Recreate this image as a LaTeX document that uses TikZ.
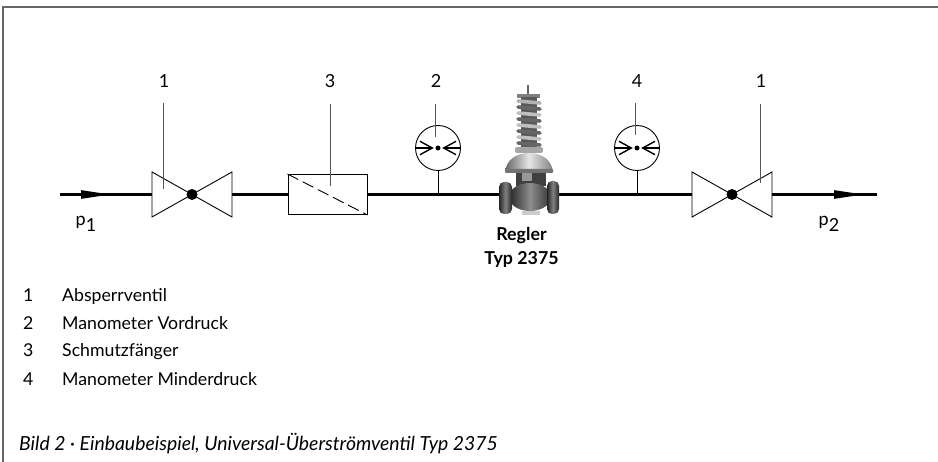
\documentclass[tikz,border=0pt]{standalone}
\usepackage{fontspec}
\setmainfont{Lato}
\usetikzlibrary{arrows.meta,shapes}

\definecolor{leadgray}{HTML}{555555}
\definecolor{framegray}{HTML}{666666}

\begin{document}
\begin{tikzpicture}[x=1pt,y=-1pt]
    \tikzset{pipe/.style   = {line width=2.5pt, black},
        thin line/.style   = {line width=0.9pt, black},
        leader/.style      = {line width=0.9pt, leadgray},
        frame/.style       = {line width=2pt, framegray},
        flow/.style        = {pipe, -{Triangle[length=30pt,width=8pt]}},
        nr/.style          = {anchor=base, inner sep=0pt, font=\fontsize{18}{20}\selectfont},
        item/.style        = {anchor=base west, inner sep=0pt, font=\fontsize{17.7}{20}\selectfont},
        gauge/.style       = {circle, draw, thin line, minimum size=45pt, inner sep=0pt},
        filter/.style      = {rectangle, draw, thin line, minimum width=79pt, minimum height=40pt},
        seat/.style        = {circle, fill=black, minimum size=11pt, inner sep=0pt},
        coil/.style        = {line width=3.6pt, line cap=round}
        }

    \def\Pipe{194.5};
    \def\Glass{148};

    \useasboundingbox (0,0) rectangle (938,462);

    % Draw the frame.
    \coordinate (cornerL) at (3,462);
    \coordinate (cornerT) at (3,7.5);
    \coordinate (cornerR) at (938,7.5);
    \draw[frame] (cornerL) -- (cornerT) -- (cornerR);

    % Draw the line nodes.
    \coordinate (inlet)   at (60,\Pipe);
    \coordinate (tipA)    at (111,\Pipe);
    \coordinate (tipB)    at (864,\Pipe);
    \coordinate (outlet)  at (877,\Pipe);
    \coordinate (teeA)    at (438,\Pipe);
    \coordinate (teeB)    at (637,\Pipe);
    \coordinate (reglerA) at (505,\Pipe);
    \coordinate (reglerB) at (553,\Pipe);
    \node[seat]   (ventilA) at (192,\Pipe) {};
    \node[seat]   (ventilB) at (732,\Pipe) {};
    \node[filter] (sieb)    at (327.5,\Pipe) {};
    \node[gauge]  (gaugeA)  at (438,\Glass) {};
    \node[gauge]  (gaugeB)  at (637,\Glass) {};

    % Draw the valves.
    \coordinate (ventilAl) at (152,\Pipe);
    \coordinate (ventilAr) at (232,\Pipe);
    \coordinate (ventilBl) at (692,\Pipe);
    \coordinate (ventilBr) at (772,\Pipe);
    \draw[thin line] (152,172) -- (232,217) -- (232,172) -- (152,217) -- cycle;
    \draw[thin line] (692,172) -- (772,217) -- (772,172) -- (692,217) -- cycle;

    % Draw the pipe.
    \draw[pipe] (inlet) -- (ventilAl);
    \draw[flow] (inlet) -- (tipA);
    \draw[pipe] (ventilAr) -- (sieb.west);
    \draw[pipe] (sieb.east) -- (reglerA);
    \draw[pipe] (reglerB) -- (ventilBl);
    \draw[pipe] (ventilBr) -- (outlet);
    \draw[flow] (ventilBr) -- (tipB);
    \draw[thin line] (gaugeA.south) -- (teeA);
    \draw[thin line] (gaugeB.south) -- (teeB);

    % Draw the strainer screen.
    \draw[thin line, dash pattern=on 12pt off 5pt] (sieb.north west) -- (sieb.south east);

    % Draw the gauge dials.
    \fill (gaugeA.center) circle (2.5);
    \draw[line width=1.1pt] (gaugeA.west) -- ++(17,0);
    \draw[line width=1.1pt] (gaugeA.east) -- ++(-17,0);
    \draw[line width=1.4pt] (420,141.3) -- (432.3,148) -- (420,154.7);
    \draw[line width=1.4pt] (456,141.3) -- (443.7,148) -- (456,154.7);
    \fill (gaugeB.center) circle (2.5);
    \draw[line width=1.1pt] (gaugeB.west) -- ++(17,0);
    \draw[line width=1.1pt] (gaugeB.east) -- ++(-17,0);
    \draw[line width=1.4pt] (619,141.3) -- (631.3,148) -- (619,154.7);
    \draw[line width=1.4pt] (655,141.3) -- (642.7,148) -- (655,154.7);

    % Draw the regulator.
    \fill[black!60] (526.5,85) rectangle (529,96);
    \fill[black!50] (517,94) rectangle (540,98);
    \fill[black!65] (521,97) rectangle (537,150);
    \draw[coil, black!30] (518,101) -- (540,103);
    \draw[coil, black!60] (518,107) -- (540,109);
    \draw[coil, black!25] (518,113) -- (540,115);
    \draw[coil, black!60] (518,119) -- (540,121);
    \draw[coil, black!25] (518,125) -- (540,127);
    \draw[coil, black!60] (518,131) -- (540,133);
    \draw[coil, black!25] (518,137) -- (540,139);
    \draw[coil, black!60] (518,143) -- (540,145);
    \fill[black!35, rounded corners=2pt] (515,147) rectangle (543,153);
    \shade[left color=black!60, right color=black!50, middle color=black!10]
        (505,172) .. controls (506,161) and (515,153) .. (529,153)
        .. controls (543,153) and (552,161) .. (553,172) -- cycle;
    \fill[black!55, rounded corners=1pt] (505,169) rectangle (553,173);
    \fill[black!75] (516,173) rectangle (546,186);
    \fill[black!40] (522,173) rectangle (532,181);
    \shade[left color=black!85, right color=black!80, middle color=black!45]
        (530,197) ellipse (21 and 14);
    \fill[black!20] (522,211) rectangle (540,215);
    \shade[left color=black!85, right color=black!85, middle color=black!50, rounded corners=5pt]
        (499,182) rectangle (512,214);
    \shade[left color=black!85, right color=black!85, middle color=black!50, rounded corners=5pt]
        (547,181) rectangle (559,214);

    % Draw the position numbers.
    \node[nr] (nrA) at (164,88) {1};
    \node[nr] (nrC) at (330,88) {3};
    \node[nr] (nrB) at (436,88) {2};
    \node[nr] (nrD) at (637,88) {4};
    \node[nr] (nrE) at (761,88) {1};

    \coordinate (leadA) at (163,103);
    \coordinate (leadC) at (330,104);
    \coordinate (leadB) at (435,104);
    \coordinate (leadD) at (635,103);
    \coordinate (leadE) at (760,104);
    \coordinate (endA) at (163,189);
    \coordinate (endC) at (330,186);
    \coordinate (endB) at (435,137);
    \coordinate (endD) at (635,135);
    \coordinate (endE) at (760,183);
    \draw[leader] (leadA) -- (endA);
    \draw[leader] (leadC) -- (endC);
    \draw[leader] (leadB) -- (endB);
    \draw[leader] (leadD) -- (endD);
    \draw[leader] (leadE) -- (endE);

    % Write the labels.
    \node[nr] (pA) at (86,226) {p\raisebox{-6pt}{1}};
    \node[nr] (pB) at (829,226) {p\raisebox{-6pt}{2}};
    \node[font=\fontsize{17.8}{24}\selectfont\bfseries, align=center, inner sep=0pt] (regler) at (521.5,247) {Regler\\Typ 2375};

    % Write the legend.
    \node[item] (keyA) at (23,302) {1};
    \node[item] (keyB) at (23,330) {2};
    \node[item] (keyC) at (23,357) {3};
    \node[item] (keyD) at (23,386) {4};
    \node[item] (textA) at (62,302) {Absperrventil};
    \node[item] (textB) at (62,330) {Manometer Vordruck};
    \node[item] (textC) at (62,357) {Schmutzfänger};
    \node[item] (textD) at (62,386) {Manometer Minderdruck};
    \node[item, font=\fontsize{19.4}{20}\selectfont\itshape] (caption) at (19,450) {Bild 2 · Einbaubeispiel, Universal-Überströmventil Typ 2375};
\end{tikzpicture}
\end{document}
